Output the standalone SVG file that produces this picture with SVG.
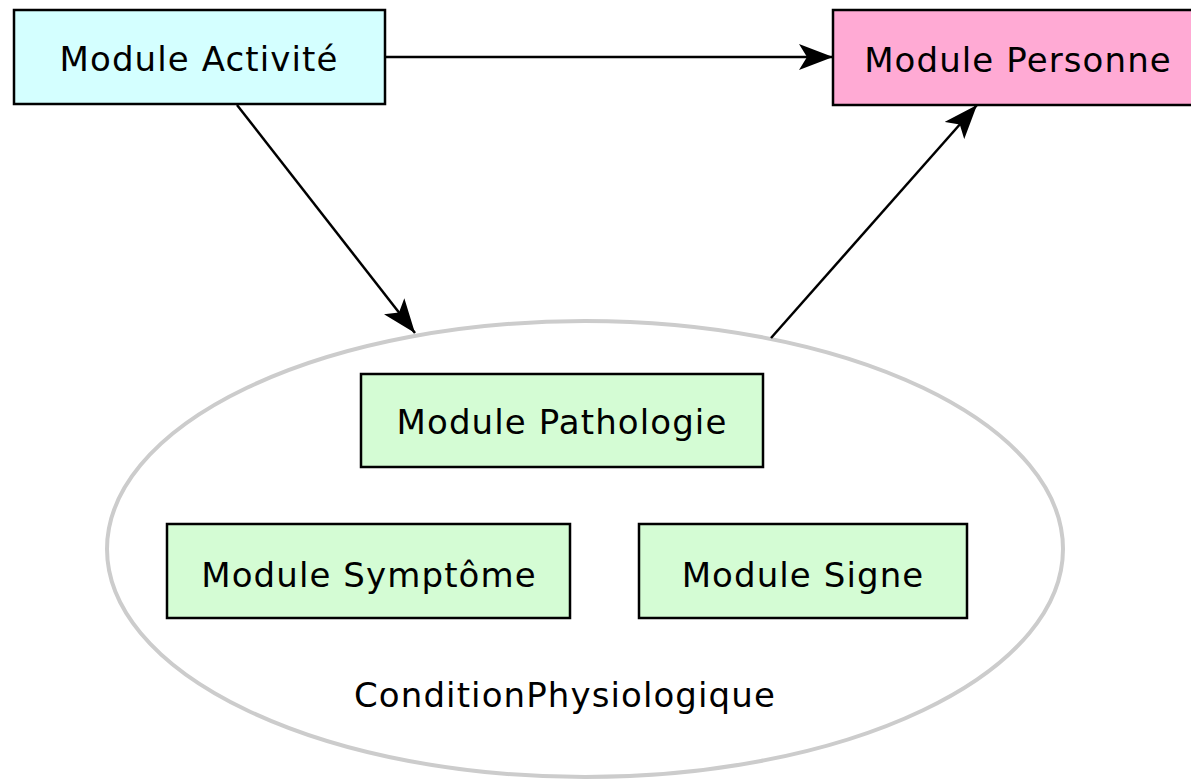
<svg xmlns="http://www.w3.org/2000/svg" width="1191" height="779" viewBox="0 0 1191 779">
  <style>
    .box { stroke: #000; stroke-width: 2.5; }
    .lbl { font-family: "DejaVu Sans", "Liberation Sans", sans-serif; font-size: 34px; letter-spacing: 1.1px; fill: #000; text-anchor: middle; }
    .edge { stroke: #000; stroke-width: 2.5; fill: none; marker-end: url(#head); }
  </style>
  <defs>
    <marker id="head" viewBox="0 0 34 26" refX="34" refY="13" markerWidth="34" markerHeight="26" markerUnits="userSpaceOnUse" orient="auto">
      <path d="M0,0 L34,13 L0,26 L8,13 Z" fill="#000"/>
    </marker>
  </defs>
  <rect width="1191" height="779" fill="#fff"/>

  <g id="condition-physiologique">
    <ellipse cx="585" cy="549" rx="478" ry="228" fill="none" stroke="#cccccc" stroke-width="4"/>
    <text class="lbl" x="565" y="707">ConditionPhysiologique</text>
  </g>

  <g id="module-activite">
    <rect class="box" x="14" y="10" width="371" height="94" fill="#d4ffff"/>
    <text class="lbl" x="199" y="71">Module Activité</text>
  </g>

  <g id="module-personne">
    <rect class="box" x="833" y="10" width="370" height="95" fill="#ffaad4"/>
    <text class="lbl" x="1018" y="72">Module Personne</text>
  </g>

  <g id="module-pathologie">
    <rect class="box" x="361" y="374" width="402" height="93" fill="#d4fcd4"/>
    <text class="lbl" x="562" y="434">Module Pathologie</text>
  </g>

  <g id="module-symptome">
    <rect class="box" x="167" y="524" width="403" height="94" fill="#d4fcd4"/>
    <text class="lbl" x="369" y="587">Module Symptôme</text>
  </g>

  <g id="module-signe">
    <rect class="box" x="639" y="524" width="328" height="94" fill="#d4fcd4"/>
    <text class="lbl" x="803" y="587">Module Signe</text>
  </g>

  <g id="connectors">
    <line class="edge" x1="385" y1="57" x2="833" y2="57"/>
    <line class="edge" x1="237" y1="105" x2="415" y2="333"/>
    <line class="edge" x1="771" y1="338" x2="977" y2="105"/>
  </g>
</svg>
